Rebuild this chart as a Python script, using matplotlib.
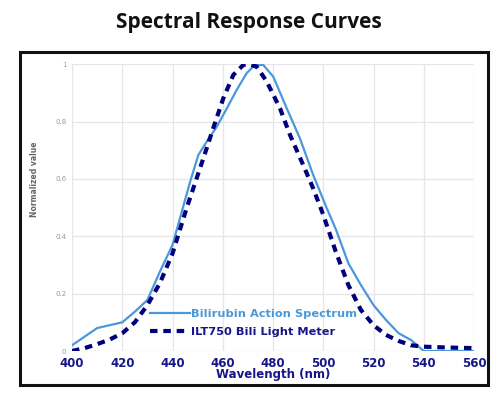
import matplotlib.pyplot as plt
from matplotlib.patches import Rectangle

# wavelengths (nm) and normalized responses
bili_nm = [400, 405, 410, 415, 420, 425, 430, 435, 440, 443.7, 447, 450.3,
           453.6, 457.6, 461.6, 465.5, 469.5, 472.8, 476.1, 480.1, 485.5,
           490.7, 496, 501.4, 505, 510, 515, 520, 525, 530, 535, 540, 550,
           560]
bilirubin = [0.02, 0.05, 0.08, 0.09, 0.10, 0.137, 0.178, 0.277, 0.37, 0.486,
             0.59, 0.684, 0.73, 0.782, 0.846, 0.91, 0.969, 0.998, 0.998,
             0.957, 0.846, 0.742, 0.614, 0.498, 0.425, 0.306, 0.23, 0.16,
             0.108, 0.062, 0.038, 0.0, 0.0, 0.0]

ilt_nm = [400, 405, 410, 415, 420, 425, 430, 435, 440, 445.6, 449.6, 453.6,
          456.2, 460.2, 464.2, 468.2, 470.5, 473.5, 477.5, 482.8, 486.8, 492,
          496, 500, 505, 510, 515, 520, 525, 530, 535, 540, 550, 560]
ilt750 = [0.0, 0.01, 0.024, 0.04, 0.062, 0.10, 0.16, 0.237, 0.34, 0.498,
          0.602, 0.707, 0.777, 0.881, 0.963, 0.998, 1.0, 0.992, 0.94, 0.846,
          0.753, 0.649, 0.567, 0.475, 0.346, 0.23, 0.143, 0.09, 0.056, 0.035,
          0.02, 0.015, 0.012, 0.01]

x_ticks = [400, 420, 440, 460, 480, 500, 520, 540, 560]
y_ticks = [0, 0.2, 0.4, 0.6, 0.8, 1]
y_labels = ['0', '0.2', '0.4', '0.6', '0.8', '1']

NAVY = '#16168a'
BLUE = '#4a98da'

fig = plt.figure(figsize=(4.98, 3.99), dpi=100)
fig.patch.set_facecolor('white')

# black frame round the plot
fig.patches.append(Rectangle((0.0402, 0.0351), 0.9398, 0.8346,
                             transform=fig.transFigure, fill=False,
                             edgecolor='#111111', linewidth=2.2))

fig.text(0.5, 0.929, 'Spectral Response Curves', ha='center', va='baseline',
         fontsize=15, fontweight='bold', family='Open Sans', color='#111111')

ax = fig.add_axes([0.1446, 0.1203, 0.8072, 0.7185])
ax.plot(bili_nm, bilirubin, color=BLUE, linewidth=1.6,
        label='Bilirubin Action Spectrum', zorder=3,
        solid_joinstyle='round')
ax.plot(ilt_nm, ilt750, color='#00007f', linewidth=3.0,
        linestyle=(0, (1.8, 1.4)), label='ILT750 Bili Light Meter', zorder=4)

ax.set_xlim(400, 560)
ax.set_ylim(0, 1)
ax.set_xticks(x_ticks)
ax.set_yticks(y_ticks)
ax.set_yticklabels(y_labels)
for s in ax.spines.values():
    s.set_visible(False)
ax.grid(True, color='#e6e6ea', linewidth=0.9)
ax.set_axisbelow(True)
ax.tick_params(length=0)
ax.tick_params(axis='x', labelsize=8.5, labelcolor=NAVY, pad=4)
ax.tick_params(axis='y', labelsize=5, labelcolor='#999999', pad=4)
for t in ax.get_xticklabels():
    t.set_fontweight('bold')

ax.set_xlabel('Wavelength (nm)', fontsize=8.5, fontweight='bold',
              color=NAVY, labelpad=-1)
ax.set_ylabel('Normalized value', fontsize=5.5, fontweight='bold',
              color='#666666')
ax.yaxis.set_label_coords(-0.083, 0.60)

leg = ax.legend(loc='lower left', bbox_to_anchor=(0.18, 0.03), frameon=False,
                fontsize=8.2, handlelength=3.5, handletextpad=0.1,
                labelspacing=0.65, borderpad=0)
for txt, c in zip(leg.get_texts(), [BLUE, NAVY]):
    txt.set_color(c)
    txt.set_fontweight('bold')

fig.savefig('out.png', dpi=100, facecolor='white')
